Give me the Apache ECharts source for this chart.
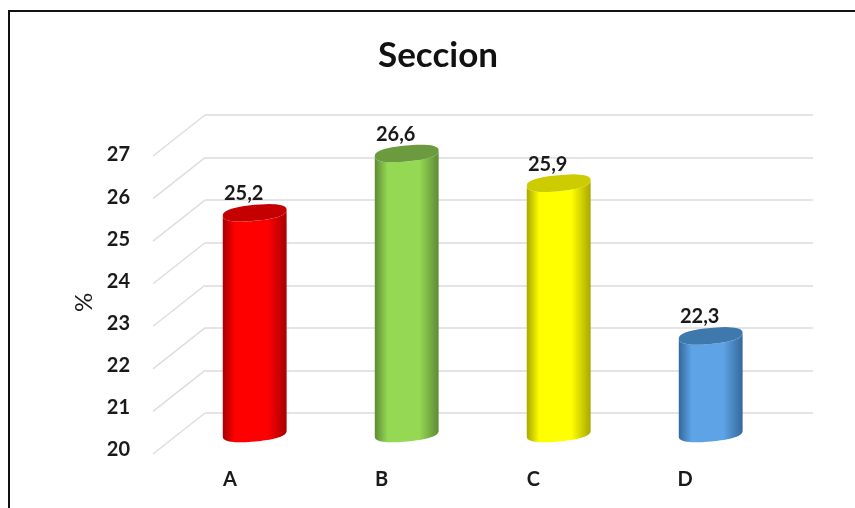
<!DOCTYPE html>
<html>
<head>
<meta charset="utf-8">
<style>html,body{margin:0;padding:0;background:#fff}#chart{width:855px;height:508px}</style>
<script src="https://cdn.jsdelivr.net/npm/echarts@6/dist/echarts.min.js"></script>
</head>
<body>
<div id="chart"></div>
<script>
const categories = ['A', 'B', 'C', 'D'];
const values = [25.2, 26.6, 25.9, 22.3];
const yTicks = [20, 21, 22, 23, 24, 25, 26, 27];
const bodyMid = ['#FF0000', '#94D853', '#FFFF00', '#5DA3E6'];
const bodyEdge = ['#A80000', '#5F8A35', '#A8A800', '#35689A'];
const capFill = ['#C40000', '#6C9A3E', '#CCCC00', '#3F78AD'];

const FONT = 'Lato, "Open Sans", sans-serif';
const TEXT = '#1A1A1A';
const WALL_DX = -52, WALL_DY = 41;   // floor depth: wall line to front edge

// Outline of a tilted, slightly squared ellipse between two parametric angles
function arc(cx, cy, a, b, from, to) {
  const pts = [], n = 48;
  const soft = (u) => Math.sign(u) * Math.pow(Math.abs(u), 0.82);
  for (let i = 0; i <= n; i++) {
    const t = from + (to - from) * i / n;
    const dx = a * soft(Math.cos(t));
    pts.push([cx + dx, cy + b * soft(Math.sin(t)) - dx * 0.09]);
  }
  return pts;
}

function renderCylinder(params, api) {
  const i = api.value(0), v = api.value(1);
  const top = api.coord([i, v]);
  const base = api.coord([i, yTicks[0]]);
  const a = api.size([1, 0])[0] * 0.21;
  const b = 8;
  const body = arc(base[0], base[1], a, b, 0, Math.PI)
    .concat(arc(top[0], top[1], a, b, Math.PI, 0));
  const shade = new echarts.graphic.LinearGradient(0, 0, 1, 0, [
    { offset: 0, color: bodyEdge[i] },
    { offset: 0.2, color: bodyMid[i] },
    { offset: 0.7, color: bodyMid[i] },
    { offset: 1, color: bodyEdge[i] }
  ]);
  return {
    type: 'group',
    children: [
      { type: 'polygon', shape: { points: body }, style: { fill: shade } },
      { type: 'polygon', shape: { points: arc(top[0], top[1], a, b, 0, Math.PI * 2) }, style: { fill: capFill[i] } },
      {
        type: 'text',
        style: {
          text: String(v).replace('.', ','),
          x: top[0] - 11, y: top[1] - 19,
          align: 'center', verticalAlign: 'middle',
          font: '700 20px ' + FONT, fill: TEXT
        }
      }
    ]
  };
}

// Slanted floor lines running from the back wall toward each tick label
function renderFloorLine(params, api) {
  const y = api.coord([0, api.value(0)])[1];
  const x = params.coordSys.x;
  return {
    type: 'line',
    shape: { x1: x, y1: y, x2: x + WALL_DX, y2: y + WALL_DY },
    style: { stroke: '#DEDEDE', lineWidth: 1.5 }
  };
}

const hiddenX = (gridIndex) => ({
  type: 'category', data: categories, gridIndex, show: false
});
const hiddenY = (gridIndex, splitLine) => ({
  type: 'value', gridIndex, min: 20, max: 27, interval: 1,
  axisLabel: { show: false }, axisLine: { show: false }, axisTick: { show: false },
  splitLine: { show: splitLine, lineStyle: { color: '#E4E4E4', width: 2 } }
});

const chart = echarts.init(document.getElementById('chart'), null, { renderer: 'canvas' });
chart.setOption({
  animation: false,
  backgroundColor: '#FFFFFF',
  title: {
    text: 'Seccion', left: 373, top: 33,
    textStyle: { fontFamily: FONT, fontSize: 35, fontWeight: 700, color: '#111111' }
  },
  grid: [
    { left: 205, top: 115, width: 608, height: 298 },   // back wall
    { left: 178.7, top: 136.5, width: 608, height: 297 }, // cylinder plane
    { left: 154, top: 155, width: 607, height: 295 }    // front edge, carries the labels
  ],
  xAxis: [
    hiddenX(0),
    hiddenX(1),
    {
      type: 'category', data: categories, gridIndex: 2,
      axisLine: { show: false }, axisTick: { show: false },
      axisLabel: { margin: 20, fontFamily: FONT, fontSize: 20, fontWeight: 700, color: TEXT }
    }
  ],
  yAxis: [
    hiddenY(0, true),
    hiddenY(1, false),
    {
      type: 'value', gridIndex: 2, min: 20, max: 27, interval: 1,
      name: '%', nameLocation: 'middle', nameGap: 58, nameRotate: 90,
      nameTextStyle: { fontFamily: FONT, fontSize: 24, fontWeight: 400, color: TEXT },
      axisLine: { show: false }, axisTick: { show: false }, splitLine: { show: false },
      axisLabel: { margin: 24, fontFamily: FONT, fontSize: 20, fontWeight: 700, color: TEXT }
    }
  ],
  series: [
    {
      type: 'custom', xAxisIndex: 0, yAxisIndex: 0,
      data: yTicks.map((t) => [t]), encode: { y: 0 },
      renderItem: renderFloorLine, silent: true, z: 1
    },
    {
      type: 'custom', xAxisIndex: 1, yAxisIndex: 1,
      data: values.map((v, i) => [i, v]), encode: { x: 0, y: 1 },
      renderItem: renderCylinder, silent: true, z: 3
    }
  ],
  graphic: [{
    type: 'polyline',
    shape: { points: [[9, 508], [9, 11], [855, 11]] },
    style: { fill: null, stroke: '#111111', lineWidth: 2 },
    silent: true
  }]
});
</script>
</body>
</html>
